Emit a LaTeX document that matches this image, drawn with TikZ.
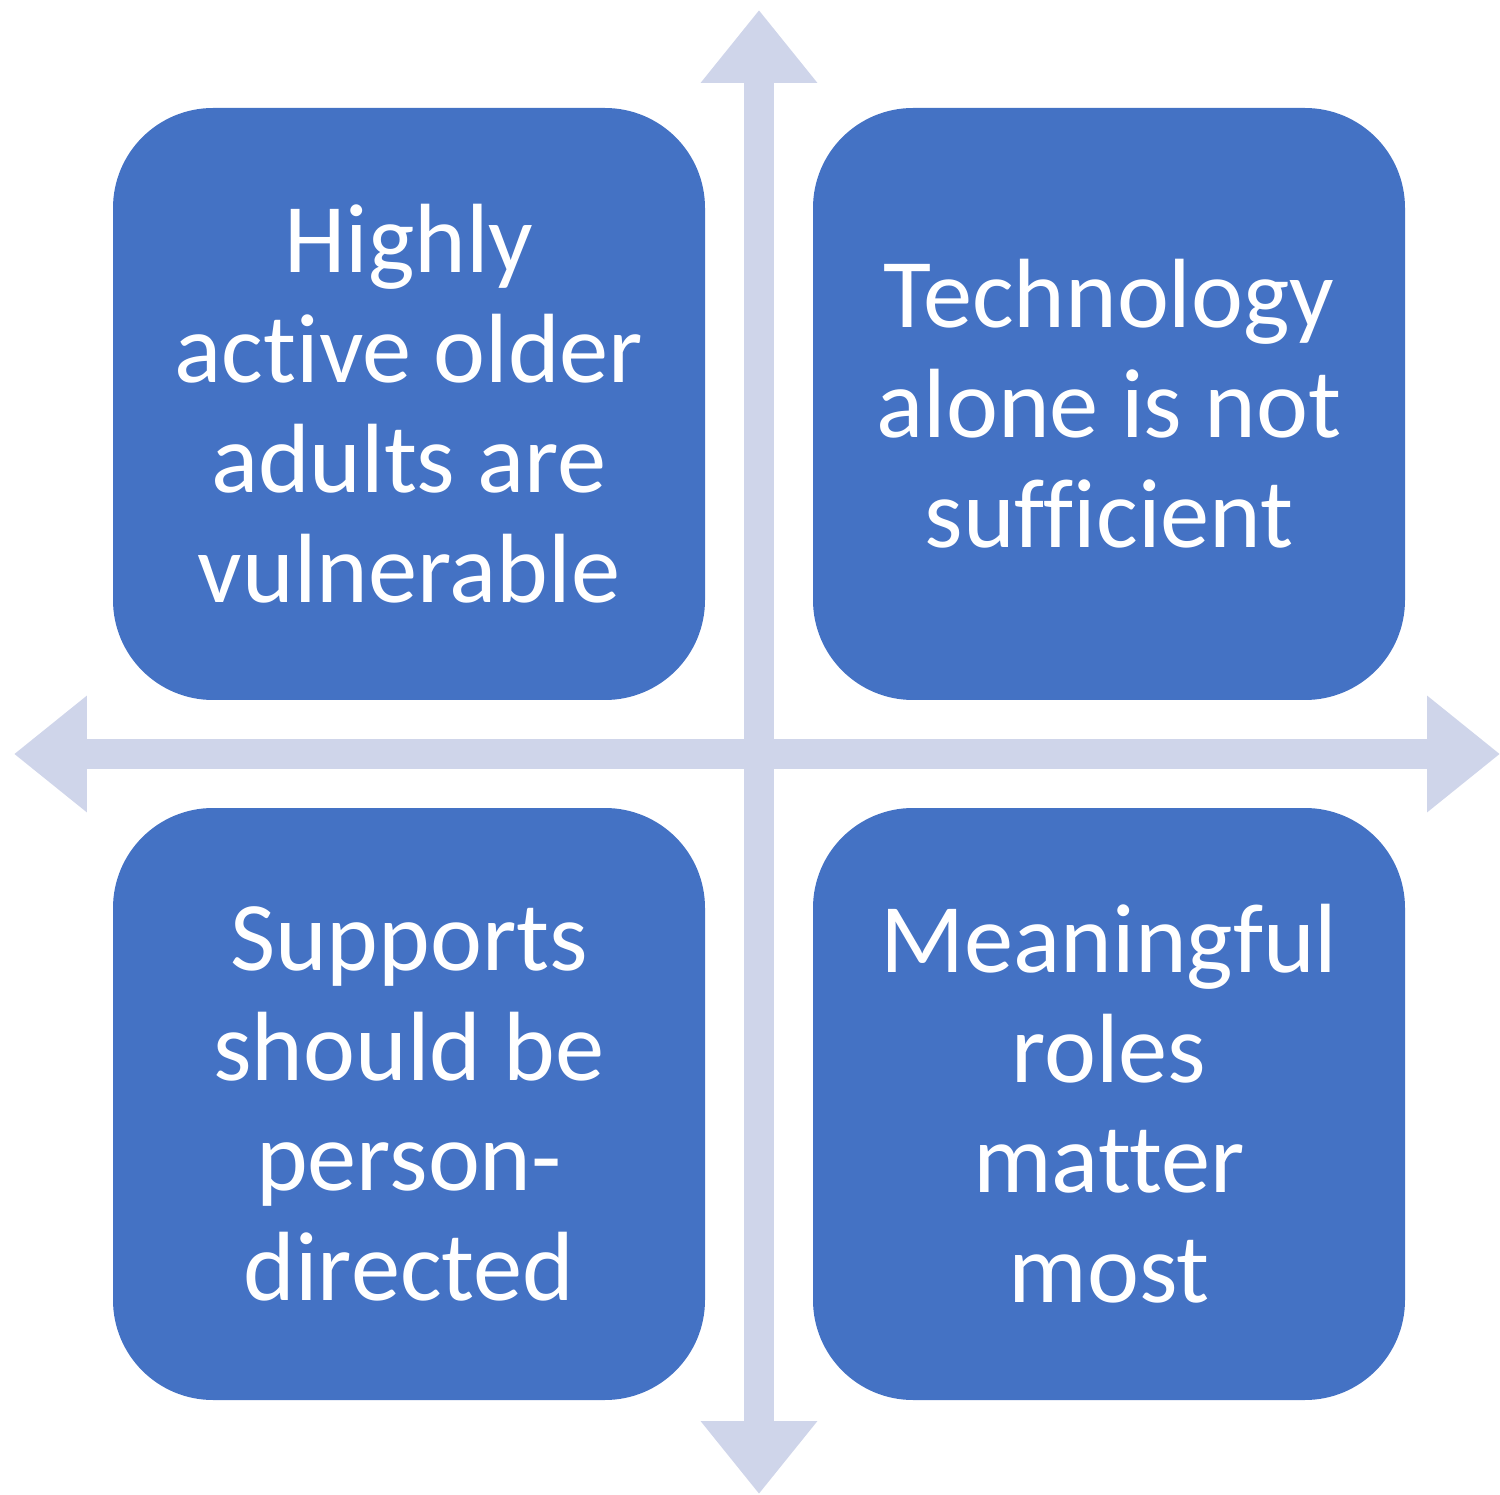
\documentclass[tikz,border=0pt]{standalone}
\usepackage{fontspec}
\setmainfont[Ligatures={NoCommon}]{Carlito}
\usetikzlibrary{arrows.meta}
\definecolor{boxblue}{HTML}{4472C4}
\definecolor{axisgrey}{HTML}{CFD5EA}

\begin{document}
\begin{tikzpicture}[
    quadrant/.style ={rectangle, rounded corners=1cm, fill=boxblue, text=white,
      minimum size=5.92cm, inner sep=0pt, align=center,
      font=\fontsize{28pt}{31.3pt}\selectfont},
    axis/.style ={axisgrey, line width=0.3cm,
      {Triangle[width=1.12cm,length=0.73cm]}-{Triangle[width=1.12cm,length=0.73cm]}}]
   \useasboundingbox (0,0) rectangle (15,14.94);
   \coordinate (top) at (7.59,14.84);
   \coordinate (bottom) at (7.59,0);
   \coordinate (left) at (0.14,7.40);
   \coordinate (right) at (15,7.40);
   \draw[axis] (left) to (right);
   \draw[axis] (bottom) to (top);
   \node[quadrant] (vul) at (4.09,10.90) {Highly\\active older\\adults are\\vulnerable};
   \node[quadrant] (tech) at (11.09,10.90) {Technology\\alone is not\\sufficient};
   \node[quadrant] (sup) at (4.09,3.90) {Supports\\should be\\person-\\directed};
   \node[quadrant] (roles) at (11.09,3.90) {Meaningful\\roles\\matter\\most};
 \end{tikzpicture}
\end{document}
